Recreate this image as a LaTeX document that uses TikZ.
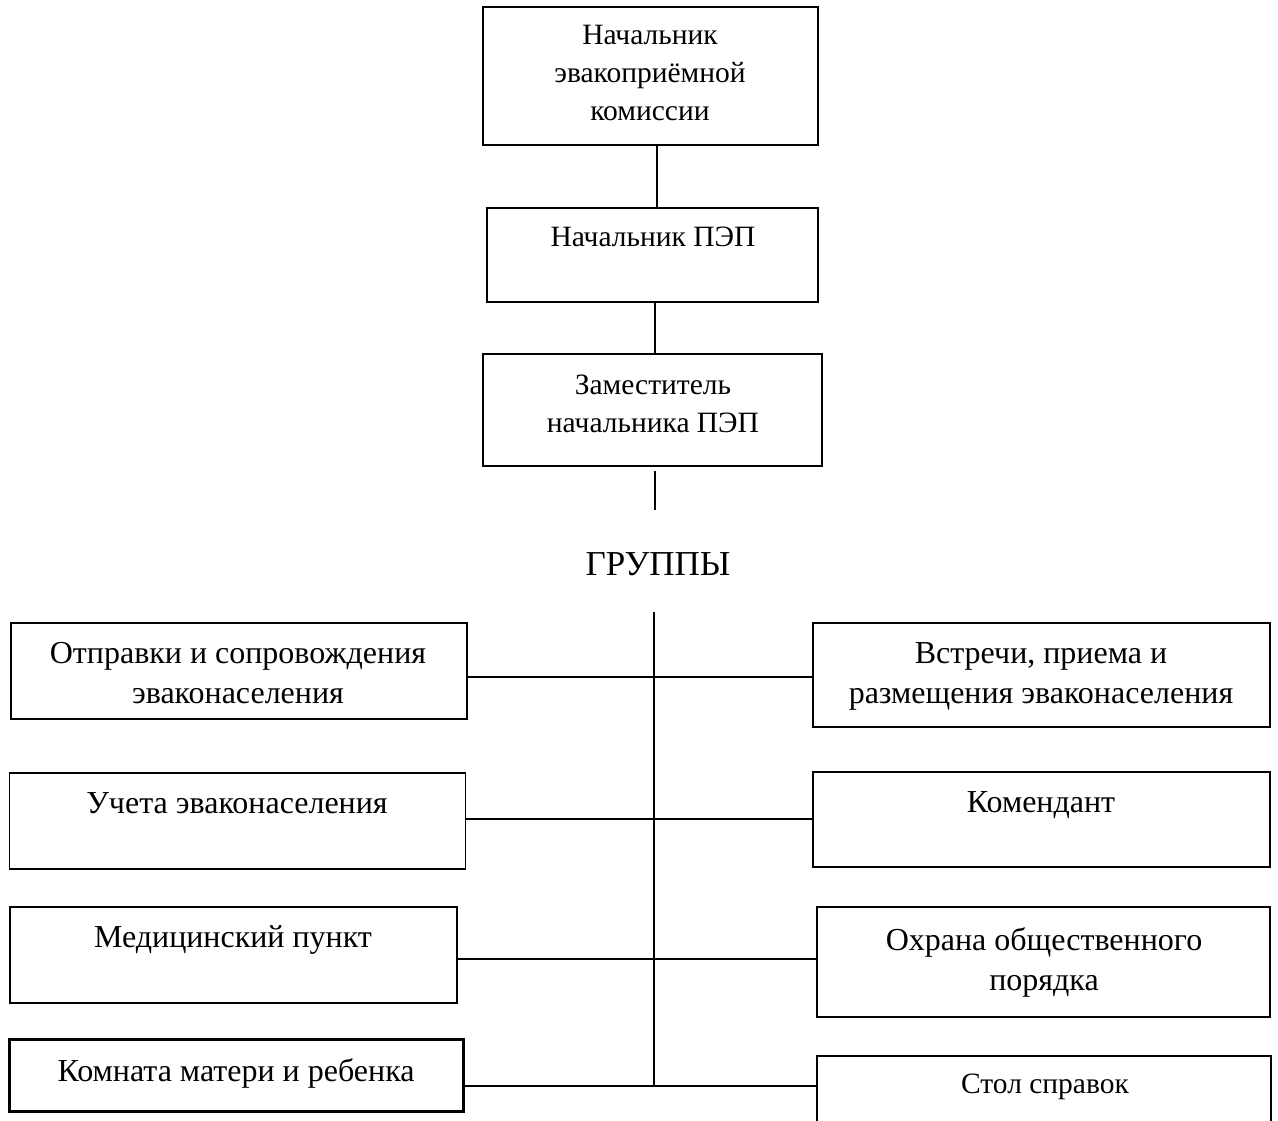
\documentclass[tikz,border=0pt]{standalone}
\usepackage{fontspec}
\setmainfont{Liberation Serif}
\begin{document}
\begin{tikzpicture}[x=1pt,y=-1pt,
  box/.style={draw, line width=1.8pt, inner sep=0pt, outer sep=0pt},
  txt/.style={inner sep=0pt, outer sep=0pt, align=center, anchor=base, font=\fontsize{32}{40}\selectfont},
  txts/.style={txt, font=\fontsize{29.5}{38}\selectfont},
  conn/.style={line width=1.8pt}]
\useasboundingbox (0,0) rectangle (1278,1121);
% boxes
\node[box, minimum width=335, minimum height=138] (top) at (650.5,76) {};
\node[box, minimum width=331, minimum height=94] (pep) at (652.5,255) {};
\node[box, minimum width=339, minimum height=112] (zam) at (652.5,410) {};
\node[box, minimum width=456, minimum height=96] (l1) at (239,671) {};
\node[box, minimum width=457, minimum height=104] (r1) at (1041.5,675) {};
\node[box, minimum width=456, minimum height=96] (l2) at (237.5,821) {};
\node[box, minimum width=457, minimum height=95] (r2) at (1041.5,819.5) {};
\node[box, minimum width=447, minimum height=96] (l3) at (233.5,955) {};
\node[box, minimum width=453, minimum height=110] (r3) at (1043.5,962) {};
\node[box, line width=3pt, minimum width=454, minimum height=72] (l4) at (236,1075.5) {};
\node[inner sep=0pt, outer sep=0pt, minimum width=454, minimum height=66] (r4) at (1044,1089) {};
\draw[line width=1.8pt] (r4.south west) -- (r4.north west) -- (r4.north east) -- (r4.south east);
% texts (anchor = baseline of the last line)
\node[txts] (ttop) at (650,121) {Начальник\\эвакоприёмной\\комиссии};
\node[txts] (tpep) at (653,247) {Начальник ПЭП};
\node[txts] (tzam) at (653,432) {Заместитель\\начальника ПЭП};
\node[txt, font=\fontsize{35}{40}\selectfont] (grp) at (658,575) {ГРУППЫ};
\node[txt] (tl1) at (238,703) {Отправки и сопровождения\\эваконаселения};
\node[txt] (tr1) at (1041,703) {Встречи, приема и\\размещения эваконаселения};
\node[txt] (tl2) at (237,813) {Учета эваконаселения};
\node[txt] (tr2) at (1041,812) {Комендант};
\node[txt] (tl3) at (233,947) {Медицинский пункт};
\node[txt] (tr3) at (1044,990) {Охрана общественного\\порядка};
\node[txt] (tl4) at (236,1081) {Комната матери и ребенка};
\node[txts] (tr4) at (1045,1093) {Стол справок};
% connector coordinates
\coordinate (a1) at (657,0);
\coordinate (a2) at (655,0);
\coordinate (zb) at (655,471);
\coordinate (ze) at (655,510);
\coordinate (sTop) at (654,612);
\coordinate (sBot) at (654,1087);
\coordinate (j1) at (654,677);
\coordinate (j2) at (654,819);
\coordinate (j3) at (654,959);
\coordinate (j4) at (654,1086);
% connectors
\draw[conn] (top.south -| a1) -- (pep.north -| a1);
\draw[conn] (pep.south -| a2) -- (zam.north -| a2);
\draw[conn] (zb) -- (ze);
\draw[conn] (sTop) -- (sBot);
\draw[conn] (l1.east |- j1) -- (j1) -- (r1.west |- j1);
\draw[conn] (l2.east |- j2) -- (j2) -- (r2.west |- j2);
\draw[conn] (l3.east |- j3) -- (j3) -- (r3.west |- j3);
\draw[conn] (l4.east |- j4) -- (j4) -- (r4.west |- j4);
\end{tikzpicture}
\end{document}
